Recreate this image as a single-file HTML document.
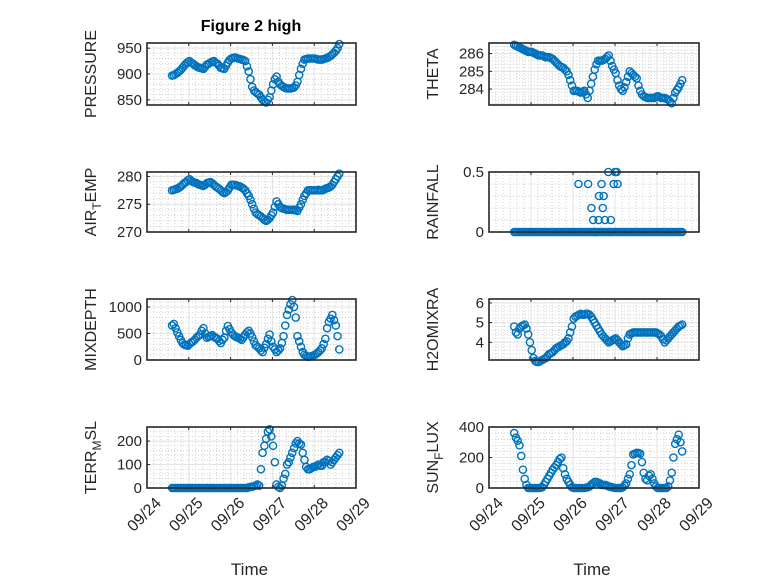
<!DOCTYPE html>
<html><head><meta charset="utf-8"><style>
html,body{margin:0;padding:0;background:#fff;}
svg{display:block;font-family:"Liberation Sans","DejaVu Sans",sans-serif;}
</style></head><body>
<svg id="fig" width="778" height="583" viewBox="0 0 778 583" xmlns="http://www.w3.org/2000/svg">
<rect width="778" height="583" fill="#fff"/>
<text x="251" y="31" text-anchor="middle" font-size="16" font-weight="bold" fill="#000">Figure 2 high</text>
</svg>
<script>
const times = [];
for (let i = 0; i < 97; i++) times.push(0.6 + i / 24);
const xTickLabels = ["09/24","09/25","09/26","09/27","09/28","09/29"];
const pressureValues = [897,898,900,902,905,908,912,916,920,923,925,922,920,917,915,913,912,911,910,914,918,920,922,924,925,922,920,916,912,911,910,916,922,927,930,931,932,931,930,929,928,927,925,915,905,890,875,868,865,862,860,855,850,847,845,850,855,868,880,890,895,885,880,877,875,873,872,872,872,873,874,878,885,898,910,920,928,929,930,930,930,930,930,929,928,928,928,929,930,931,933,935,938,941,945,950,958];
const thetaValues = [286.5,286.45,286.4,286.35,286.3,286.25,286.2,286.15,286.1,286.1,286.1,286.05,286.0,285.95,285.9,285.9,285.9,285.85,285.8,285.8,285.8,285.75,285.7,285.6,285.5,285.4,285.3,285.25,285.2,285.1,285.0,284.8,284.5,284.2,283.9,283.9,283.9,283.85,283.8,283.85,283.9,283.7,283.5,283.9,284.3,284.7,285.1,285.4,285.6,285.6,285.6,285.65,285.7,285.8,285.9,285.6,285.3,285.1,284.9,284.5,284.2,284.0,283.9,284.1,284.4,284.7,285.0,284.9,284.8,284.7,284.6,284.2,283.9,283.7,283.6,283.55,283.5,283.5,283.5,283.5,283.5,283.55,283.6,283.55,283.5,283.5,283.5,283.45,283.4,283.3,283.2,283.5,283.8,283.95,284.1,284.3,284.5];
const airTempValues = [277.5,277.6,277.7,277.8,278.0,278.2,278.5,278.8,279.0,279.3,279.5,279.2,279.0,278.9,278.8,278.6,278.5,278.4,278.3,278.5,278.8,278.9,279.0,278.8,278.5,278.2,278.0,277.8,277.5,277.2,277.0,277.2,277.5,278.0,278.5,278.5,278.5,278.4,278.3,278.2,278.0,277.8,277.5,277.0,276.5,275.8,275.0,274.2,273.5,273.2,273.0,272.8,272.5,272.2,272.0,272.2,272.5,273.0,273.5,274.5,275.5,275.0,274.5,274.3,274.2,274.1,274.0,274.0,274.0,274.0,274.0,273.9,273.8,274.4,275.0,275.8,276.5,277.0,277.5,277.5,277.5,277.5,277.5,277.5,277.6,277.5,277.5,277.6,277.8,277.9,278.0,278.2,278.5,279.0,279.5,280.0,280.5];
const rainfallValues = [0,0,0,0,0,0,0,0,0,0,0,0,0,0,0,0,0,0,0,0,0,0,0,0,0,0,0,0,0,0,0,0,0,0,0,0,0,0,0,0,0,0,0,0,0,0,0,0,0,0,0,0,0,0,0,0,0,0,0,0,0,0,0,0,0,0,0,0,0,0,0,0,0,0,0,0,0,0,0,0,0,0,0,0,0,0,0,0,0,0,0,0,0,0,0,0,0];
const rainExtraTimes = [2.13,2.36,2.44,2.48,2.5,2.55,2.61,2.62,2.68,2.71,2.73,2.76,2.84,2.88,2.9,2.97,3.0,3.04,3.06];
const rainExtraValues = [0.4,0.4,0.2,0.1,0.0,0.0,0.1,0.3,0.4,0.2,0.3,0.1,0.5,0.0,0.1,0.4,0.5,0.5,0.4];
const mixDepthValues = [650,680,600,520,450,380,320,290,280,270,300,330,350,380,420,450,480,550,600,500,420,440,450,470,440,420,400,360,320,380,420,550,640,580,520,480,450,430,420,400,380,430,480,520,550,500,430,350,280,250,220,180,150,230,300,400,480,350,250,200,150,180,220,320,450,650,850,950,1050,1130,1000,800,450,350,250,150,100,80,60,65,70,85,100,120,150,180,220,300,400,600,720,780,850,750,650,450,200];
const h2oValues = [4.8,4.5,4.4,4.7,4.8,4.85,4.9,4.7,4.4,4.0,3.6,3.2,3.05,3.0,3.0,3.05,3.1,3.15,3.2,3.3,3.4,3.45,3.5,3.6,3.7,3.75,3.8,3.85,3.9,4.0,4.05,4.2,4.5,4.8,5.2,5.3,5.35,5.4,5.45,5.4,5.4,5.45,5.45,5.4,5.3,5.15,5.0,4.85,4.7,4.55,4.4,4.3,4.2,4.1,4.0,4.05,4.1,4.15,4.2,4.1,4.0,3.9,3.8,3.85,3.9,4.2,4.4,4.45,4.5,4.5,4.5,4.5,4.5,4.5,4.5,4.5,4.5,4.5,4.5,4.5,4.5,4.5,4.45,4.4,4.3,4.15,4.0,4.1,4.2,4.3,4.4,4.5,4.6,4.7,4.8,4.85,4.9];
const terrValues = [0,0,0,0,0,0,0,0,0,0,0,0,0,0,0,0,0,0,0,0,0,0,0,0,0,0,0,0,0,0,0,0,0,0,0,0,0,0,0,0,0,0,0,0,3,5,5,8,10,15,10,80,150,180,210,240,250,220,180,110,15,5,0,10,40,60,100,110,130,150,170,190,200,190,185,150,120,90,80,80,85,90,90,95,100,95,95,110,110,120,115,100,110,120,130,140,150];
const sunValues = [360,330,310,280,210,120,60,20,0,0,0,0,0,0,0,2,5,20,40,60,80,100,120,135,150,170,190,200,130,90,60,40,20,5,0,0,0,0,0,0,0,2,5,10,20,30,40,40,35,30,20,20,20,15,10,8,5,2,0,0,0,0,5,15,30,60,90,150,220,225,230,230,225,170,100,60,50,80,90,60,30,10,0,0,0,0,0,0,10,50,100,200,290,320,350,300,240];

const NS = "http://www.w3.org/2000/svg";
const svg = document.getElementById("fig");
const LEFT = [147, 356], RIGHT = [489, 699];
const ROWS = [[43,105],[172,232],[299,360],[427,488]];
function mk(tag, attrs, parent) {
  const e = document.createElementNS(NS, tag);
  for (const k in attrs) e.setAttribute(k, attrs[k]);
  (parent || svg).appendChild(e);
  return e;
}
const panels = [
  {key:"pressure", col:LEFT, row:0, ylim:[840,960], ticks:[850,900,950], label:["PRESSURE"], t:times, v:pressureValues},
  {key:"theta", col:RIGHT, row:0, ylim:[283.1,286.6], ticks:[284,285,286], label:["THETA"], t:times, v:thetaValues},
  {key:"air-temp", col:LEFT, row:1, ylim:[270,280.8], ticks:[270,275,280], label:["AIR","T","EMP"], t:times, v:airTempValues},
  {key:"rainfall", col:RIGHT, row:1, ylim:[0,0.5], ticks:[0,0.5], label:["RAINFALL"], t:times.concat(rainExtraTimes), v:rainfallValues.concat(rainExtraValues)},
  {key:"mixdepth", col:LEFT, row:2, ylim:[0,1150], ticks:[0,500,1000], label:["MIXDEPTH"], t:times, v:mixDepthValues},
  {key:"h2omixra", col:RIGHT, row:2, ylim:[3.1,6.2], ticks:[4,5,6], label:["H2OMIXRA"], t:times, v:h2oValues},
  {key:"terr-msl", col:LEFT, row:3, ylim:[0,260], ticks:[0,100,200], label:["TERR","M","SL"], t:times, v:terrValues},
  {key:"sun-flux", col:RIGHT, row:3, ylim:[0,400], ticks:[0,200,400], label:["SUN","F","LUX"], t:times, v:sunValues}
];
panels.forEach(p => {
  const x0 = p.col[0], x1 = p.col[1], y0 = ROWS[p.row][0], y1 = ROWS[p.row][1];
  const xs = d => x0 + (d / 5) * (x1 - x0);
  const ys = v => y1 - (v - p.ylim[0]) / (p.ylim[1] - p.ylim[0]) * (y1 - y0);
  const g = mk("g", {});
  
  
  mk("rect", {x:x0, y:y0, width:x1-x0, height:y1-y0, fill:"#fff"}, g);
  for (let k = 1; k < 30; k++) {
    if (k % 6 === 0) continue;
    const x = xs(k / 6);
    mk("line", {x1:x, x2:x, y1:y0, y2:y1, stroke:"#cfcfcf", "stroke-width":1, "stroke-dasharray":"1,2"}, g);
  }
  const step = p.ticks[1] - p.ticks[0];
  const mstep = step / 5;
  for (let v = Math.ceil(p.ylim[0] / mstep) * mstep; v <= p.ylim[1]; v += mstep) {
    const y = ys(v);
    mk("line", {x1:x0, x2:x1, y1:y, y2:y, stroke:"#cfcfcf", "stroke-width":1, "stroke-dasharray":"1,2"}, g);
  }
  for (let k = 1; k < 5; k++) {
    const x = xs(k);
    mk("line", {x1:x, x2:x, y1:y0, y2:y1, stroke:"#e3e3e3", "stroke-width":1}, g);
  }
  p.ticks.forEach(v => {
    const y = ys(v);
    mk("line", {x1:x0, x2:x1, y1:y, y2:y, stroke:"#e3e3e3", "stroke-width":1}, g);
    mk("line", {x1:x0, x2:x0+3, y1:y, y2:y, stroke:"#262626", "stroke-width":1}, g);
    const tl = mk("text", {x:x0-5, y:y+5, "text-anchor":"end", "font-size":15, fill:"#262626"}, g);
    
    
    tl.textContent = String(v);
  });
  for (let k = 1; k < 5; k++) {
    mk("line", {x1:xs(k), x2:xs(k), y1:y0, y2:y0+3, stroke:"#262626", "stroke-width":1}, g);
    mk("line", {x1:xs(k), x2:xs(k), y1:y1, y2:y1-3, stroke:"#262626", "stroke-width":1}, g);
  }
  const pg = mk("g", {fill:"none", stroke:"#0072BD", "stroke-width":1.4}, g);
  
  
  for (let i = 0; i < p.v.length; i++) {
    const c = mk("circle", {cx:xs(p.t[i]), cy:ys(p.v[i]), r:3.6}, pg);
    
    
  }
  mk("rect", {x:x0, y:y0, width:x1-x0, height:y1-y0, fill:"none", stroke:"#262626", "stroke-width":1.6}, g);
  const lx = p.col === LEFT ? 96 : 438, ly = (y0 + y1) / 2;
  const yl = mk("text", {transform:`translate(${lx},${ly}) rotate(-90)`, "text-anchor":"middle", "font-size":16, fill:"#262626"}, g);
  
  
  if (p.label.length === 1) yl.textContent = p.label[0];
  else {
    const a = mk("tspan", {}, yl); a.textContent = p.label[0];
    const b = mk("tspan", {dy:5, "font-size":12}, yl); b.textContent = p.label[1];
    const c = mk("tspan", {dy:-5}, yl); c.textContent = p.label[2];
  }
  if (p.row === 3) {
    xTickLabels.forEach((s, k) => {
      const t = mk("text", {transform:`translate(${xs(k)+15},${y1+16}) rotate(-45)`, "text-anchor":"end", "font-size":16, fill:"#262626"}, g);
      
      
      t.textContent = s;
    });
    const xl = mk("text", {x:(x0+x1)/2 - 2, y:575, "text-anchor":"middle", "font-size":17, fill:"#262626"}, g);
    
    
    xl.textContent = "Time";
  }
});
</script>
</body></html>
